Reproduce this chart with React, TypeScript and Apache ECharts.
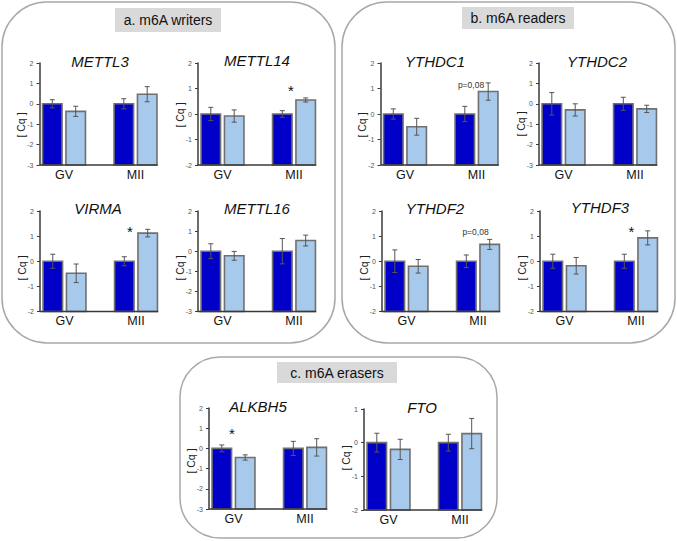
import { useEffect, useRef } from 'react';
import * as echarts from 'echarts';

// ---- data: relative expression [Cq], per gene as [GV, MII] ----
const genes = ['METTL3', 'METTL14', 'VIRMA', 'METTL16', 'YTHDC1', 'YTHDC2', 'YTHDF2', 'YTHDF3', 'ALKBH5', 'FTO'];
const stages = ['GV', 'MII'];

const darkMeans = [[0, 0], [0, 0], [0, 0], [0, 0], [0, 0], [0, 0], [0, 0], [0, 0], [0, 0], [0, 0]];
const darkErrors = [
  [0.2, 0.25], [0.26, 0.13], [0.28, 0.18], [0.37, 0.63], [0.2, 0.3],
  [0.55, 0.32], [0.45, 0.25], [0.28, 0.28], [0.17, 0.35], [0.28, 0.25],
];
const lightMeans = [
  [-0.37, 0.47], [-0.08, 0.55], [-0.48, 1.12], [-0.23, 0.53], [-0.5, 0.88],
  [-0.3, -0.25], [-0.2, 0.67], [-0.18, 0.93], [-0.45, 0.05], [-0.2, 0.27],
];
const lightErrors = [
  [0.25, 0.37], [0.24, 0.08], [0.37, 0.15], [0.22, 0.27], [0.33, 0.34],
  [0.3, 0.18], [0.27, 0.2], [0.33, 0.28], [0.13, 0.43], [0.3, 0.45],
];
const axisMin = [-3, -2, -2, -3, -2, -3, -2, -2, -3, -2];
const axisMax = [2, 2, 2, 2, 2, 2, 2, 2, 2, 1];

// significance annotations
const markGenes = ['METTL14', 'VIRMA', 'YTHDF3', 'ALKBH5', 'YTHDC1', 'YTHDF2'];
const markStages = ['MII', 'MII', 'MII', 'GV', 'MII', 'MII'];
const markLevels = [1.06, 1.36, 1.33, 0.93, 1.14, 1.16];
const markTexts = ['*', '*', '*', '*', 'p=0,08', 'p=0,08'];

const panelLabels = ['a. m6A writers', 'b. m6A readers', 'c. m6A erasers'];

// ---- layout ----
const W = 677;
const H = 541;
const FONT = '"Liberation Sans", Arial, Helvetica, sans-serif';
const DARK = '#0000c8';
const LIGHT = '#a6c9ec';
const BAR_W = 19.5;
const BAR_GAP = 0.2;
const BAR_STEP = BAR_W * (1 + BAR_GAP);
const CAP = 2.5;
const AXIS_INSET = 11.25;
const GRID_W = 143;

const axisX = [39.5, 198, 40, 198, 380.5, 539, 382, 540, 209, 364];
const plotTop = [63, 63, 211, 211, 63, 63, 211, 211, 408, 409];
const plotBottom = [165, 165, 311.5, 311.5, 165, 165, 311.5, 311.5, 509, 510];
const titlePos = [
  [100, 61], [257, 60], [98, 208], [257, 208], [435, 61],
  [597, 61], [435, 208], [600, 207], [258, 406], [422, 407],
];
const cqLabelY = [125, 115, 268, 268, 125, 124, 268, 268, 461, 458];
// horizontal nudge of each annotation from its group centre
const markShift = [-3, -6, -4.5, -1.5, -5.5, -2.5];

const panelBoxes = [
  { x: 2, y: 2, w: 333, h: 341, r: 45 },
  { x: 342, y: 2, w: 333, h: 341, r: 45 },
  { x: 180, y: 357, w: 317, h: 181, r: 40 },
];
const labelBoxes = [
  { x: 115, y: 8, w: 106, h: 24 },
  { x: 462, y: 7, w: 112, h: 22 },
  { x: 277, y: 362, w: 120, h: 21 },
];

function barSeries(gi: number, means: number[], errs: number[], side: number, fill: string) {
  return {
    type: 'custom',
    xAxisIndex: gi,
    yAxisIndex: gi,
    z: 3,
    data: means.map((m, k) => [stages[k], m, errs[k]]),
    renderItem: (params: any, api: any) => {
      const cat = api.value(0);
      const mean = api.value(1);
      const err = api.value(2);
      const base = api.coord([cat, axisMin[gi]]);
      const top = api.coord([cat, mean]);
      const hi = api.coord([cat, mean + err]);
      const lo = api.coord([cat, mean - err]);
      const cx = top[0] + (side * BAR_STEP) / 2;
      const es = { stroke: '#555', lineWidth: 1 };
      return {
        type: 'group',
        children: [
          {
            type: 'rect',
            shape: { x: cx - BAR_W / 2, y: top[1], width: BAR_W, height: base[1] - top[1] },
            style: { fill, stroke: '#707070', lineWidth: 1.6 },
          },
          { type: 'line', shape: { x1: cx, y1: hi[1], x2: cx, y2: lo[1] }, style: es },
          { type: 'line', shape: { x1: cx - CAP, y1: hi[1], x2: cx + CAP, y2: hi[1] }, style: es },
          { type: 'line', shape: { x1: cx - CAP, y1: lo[1], x2: cx + CAP, y2: lo[1] }, style: es },
        ],
      };
    },
  };
}

function baselineSeries(gi: number) {
  return {
    type: 'custom',
    xAxisIndex: gi,
    yAxisIndex: gi,
    z: 4,
    silent: true,
    data: [[stages[1], axisMin[gi]]],
    renderItem: (params: any, api: any) => {
      const p = api.coord([api.value(0), api.value(1)]);
      const x1 = params.coordSys.x + AXIS_INSET;
      const x2 = p[0] + BAR_STEP / 2 + BAR_W / 2 + 0.75;
      return {
        type: 'line',
        shape: { x1, y1: p[1], x2, y2: p[1] },
        style: { stroke: '#3a3a3a', lineWidth: 1.5 },
      };
    },
  };
}

function markSeries(gi: number) {
  const items: any[] = [];
  markGenes.forEach((g, k) => {
    if (g === genes[gi]) items.push([markStages[k], markLevels[k], k]);
  });
  if (!items.length) return null;
  return {
    type: 'custom',
    xAxisIndex: gi,
    yAxisIndex: gi,
    z: 5,
    data: items,
    renderItem: (params: any, api: any) => {
      const p = api.coord([api.value(0), api.value(1)]);
      const k = api.value(2);
      const txt = markTexts[k];
      const star = txt === '*';
      return {
        type: 'text',
        x: p[0] + markShift[k],
        y: p[1] + (star ? 4 : 0),
        style: {
          text: txt,
          fontSize: star ? 15 : 8.5,
          fontFamily: FONT,
          fill: star ? '#111' : '#333',
          textAlign: 'center',
          textVerticalAlign: 'middle',
        },
      };
    },
  };
}

export default function App() {
  const ref = useRef<HTMLDivElement>(null);

  useEffect(() => {
    if (!ref.current) return;
    const chart = echarts.init(ref.current, null, { renderer: 'svg', width: W, height: H });

    const grid: any[] = [];
    const xAxis: any[] = [];
    const yAxis: any[] = [];
    const series: any[] = [];
    const graphic: any[] = [];

    panelBoxes.forEach((b) => {
      graphic.push({
        type: 'rect',
        shape: { x: b.x, y: b.y, width: b.w, height: b.h, r: b.r },
        style: { fill: 'none', stroke: '#a8a8a8', lineWidth: 1.5 },
        silent: true,
      });
    });
    labelBoxes.forEach((b, i) => {
      graphic.push({
        type: 'rect',
        shape: { x: b.x, y: b.y, width: b.w, height: b.h },
        style: { fill: '#d9d9d9' },
        silent: true,
      });
      graphic.push({
        type: 'text',
        x: b.x + b.w / 2,
        y: b.y + b.h / 2,
        style: {
          text: panelLabels[i],
          fontSize: 14,
          fontFamily: FONT,
          fill: '#111',
          textAlign: 'center',
          textVerticalAlign: 'middle',
        },
        silent: true,
      });
    });

    genes.forEach((gene, gi) => {
      grid.push({
        left: axisX[gi] - AXIS_INSET,
        top: plotTop[gi],
        width: GRID_W,
        height: plotBottom[gi] - plotTop[gi],
        containLabel: false,
      });
      xAxis.push({
        type: 'category',
        gridIndex: gi,
        data: stages,
        axisLine: { show: false, onZero: false },
        axisTick: { show: false },
        axisLabel: { fontSize: 12.5, color: '#111', margin: 3, fontFamily: FONT },
        splitLine: { show: false },
      });
      yAxis.push({
        type: 'value',
        gridIndex: gi,
        min: axisMin[gi],
        max: axisMax[gi],
        interval: 1,
        offset: -AXIS_INSET,
        axisLine: { show: true, onZero: false, lineStyle: { color: '#3a3a3a', width: 1.5 } },
        axisTick: { show: true, length: 3, lineStyle: { color: '#3a3a3a', width: 1 } },
        axisLabel: { fontSize: 7, color: '#555', margin: 6, fontFamily: FONT },
        splitLine: { show: false },
      });
      series.push(barSeries(gi, darkMeans[gi], darkErrors[gi], -1, DARK));
      series.push(barSeries(gi, lightMeans[gi], lightErrors[gi], 1, LIGHT));
      series.push(baselineSeries(gi));
      const ms = markSeries(gi);
      if (ms) series.push(ms);

      graphic.push({
        type: 'text',
        x: titlePos[gi][0],
        y: titlePos[gi][1],
        style: {
          text: gene,
          fontSize: 15,
          fontStyle: 'italic',
          fontFamily: FONT,
          fill: '#111',
          textAlign: 'center',
          textVerticalAlign: 'middle',
        },
        silent: true,
      });
      graphic.push({
        type: 'text',
        x: axisX[gi] - 18.5,
        y: cqLabelY[gi],
        rotation: Math.PI / 2,
        style: {
          text: '[ Cq ]',
          fontSize: 10.5,
          fontFamily: FONT,
          fill: '#222',
          textAlign: 'center',
          textVerticalAlign: 'middle',
        },
        silent: true,
      });
    });

    chart.setOption({
      animation: false,
      backgroundColor: '#ffffff',
      grid,
      xAxis,
      yAxis,
      series,
      graphic,
    });

    return () => chart.dispose();
  }, []);

  return (
    <div
      ref={ref}
      style={{ position: 'fixed', left: 0, top: 0, width: W, height: H, background: '#fff' }}
    />
  );
}
